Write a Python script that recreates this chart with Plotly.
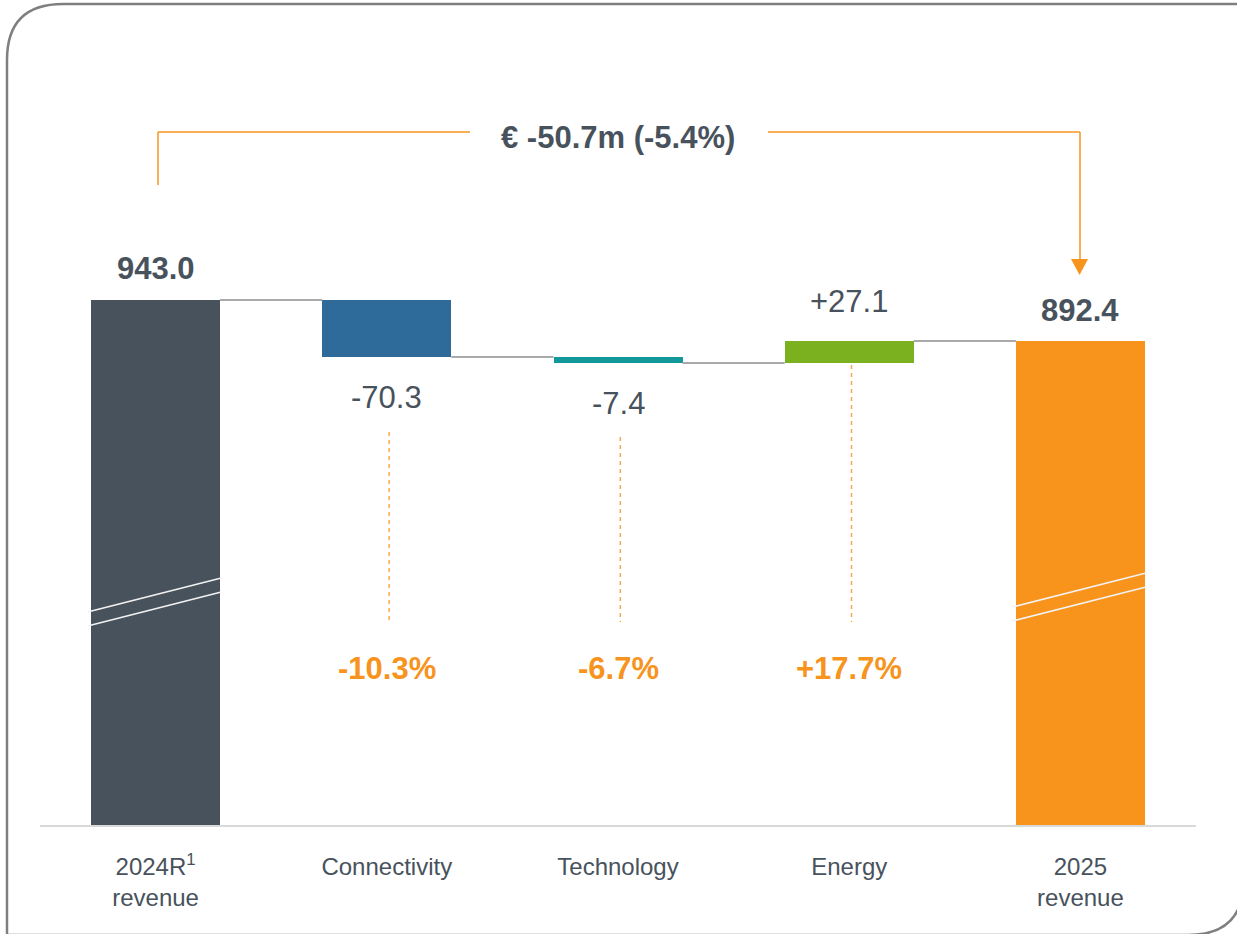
import plotly.graph_objects as go

# data
categories = ["2024R<sup>1</sup><br>revenue", "Connectivity", "Technology", "Energy", "2025<br>revenue"]
start_value = 943.0
deltas = [-70.3, -7.4, 27.1]
end_value = 892.4
delta_labels = ["-70.3", "-7.4", "+27.1"]
pct_labels = ["-10.3%", "-6.7%", "+17.7%"]
total_change = "€ -50.7m (-5.4%)"
bar_colors = ["#48525C", "#2E6B9A", "#12979A", "#7BB11F", "#F8931C"]

TEXT = "#48525C"
ORANGE = "#F7941D"
FONT = "Liberation Sans Narrow, Arial Narrow, Liberation Sans, Arial, sans-serif"

W, H = 1237, 934
L, R, T, B = 40, 41, 0, 108
BAR_W = 0.558


def px(x):
    return (x - L) / (W - L - R)


def py(y):
    return (H - B - y) / (H - T - B)


# waterfall geometry
levels = [start_value]
for d in deltas:
    levels.append(round(levels[-1] + d, 1))
bases = [0] + [min(levels[i], levels[i + 1]) for i in range(len(deltas))] + [0]
heights = [start_value] + [abs(d) for d in deltas] + [end_value]
xs = list(range(len(categories)))

fig = go.Figure()
fig.add_trace(go.Bar(x=xs, y=heights, base=bases, width=BAR_W,
                     marker=dict(color=bar_colors, line=dict(width=0)),
                     hoverinfo="skip", showlegend=False))

# connectors between bars
for i in range(len(categories) - 1):
    lvl = levels[i]
    fig.add_trace(go.Scatter(x=[i + BAR_W / 2, i + 1 - BAR_W / 2], y=[lvl, lvl],
                             mode="lines", line=dict(color="#A9A9A9", width=2),
                             hoverinfo="skip", showlegend=False))

anns = []
# totals labels
for i, v in [(0, start_value), (4, end_value)]:
    anns.append(dict(x=i, y=v, xref="x", yref="y", text="<b>%.1f</b>" % v, showarrow=False,
                     yanchor="middle", yshift=31, font=dict(size=31, color=TEXT, family=FONT)))
# delta labels + pct
for i, d in enumerate(deltas):
    top = max(levels[i], levels[i + 1])
    bot = min(levels[i], levels[i + 1])
    if d < 0:
        anns.append(dict(x=i + 1, y=bot, xref="x", yref="y", text=delta_labels[i], showarrow=False,
                         yanchor="middle", yshift=-40, font=dict(size=31, color=TEXT, family=FONT)))
    else:
        anns.append(dict(x=i + 1, y=top, xref="x", yref="y", text=delta_labels[i], showarrow=False,
                         yanchor="middle", yshift=40, font=dict(size=31, color=TEXT, family=FONT)))
    anns.append(dict(x=i + 1, y=py(668), xref="x", yref="paper", text="<b>%s</b>" % pct_labels[i],
                     showarrow=False, yanchor="middle",
                     font=dict(size=31, color=ORANGE, family=FONT)))

anns.append(dict(x=px(618), y=py(138), xref="paper", yref="paper", text="<b>%s</b>" % total_change,
                 showarrow=False, yanchor="middle", font=dict(size=31, color=TEXT, family=FONT)))

shapes = []
# frame: rounded top-left and bottom-right corners
fl, ft, fr, fb, rad = 7, 4, 1244, 935, 56
path = ("M {a},{b} L {d},{b} L {d},{f} Q {d},{g} {c},{g} "
        "L {h},{g} L {h},{e} Q {h},{b} {a},{b} Z").format(
    a=px(fl + rad), b=py(ft), c=px(fr - rad), d=px(fr), e=py(ft + rad), f=py(fb - rad),
    g=py(fb), h=px(fl))
shapes.append(dict(type="path", path=path, xref="paper", yref="paper",
                   line=dict(color="#7F7F7F", width=2.5), layer="below"))

# bracket with arrow
for (x0, y0, x1, y1) in [(158, 185, 158, 132), (158, 132, 470, 132), (768, 132, 1080, 132), (1080, 132, 1080, 262)]:
    shapes.append(dict(type="line", xref="paper", yref="paper", x0=px(x0), y0=py(y0), x1=px(x1), y1=py(y1),
                       line=dict(color=ORANGE, width=1.5)))
shapes.append(dict(type="path", xref="paper", yref="paper",
                   path="M {},{} L {},{} L {},{} Z".format(px(1071), py(259), px(1088), py(259), px(1079.5), py(275)),
                   fillcolor=ORANGE, line=dict(width=0)))

# dashed guides
for i, y_start in zip([1, 2, 3], [432, 437, 365]):
    shapes.append(dict(type="line", xref="x", yref="paper", x0=i + 0.01, x1=i + 0.01, y0=py(y_start), y1=py(622),
                       line=dict(color="#F9A94D", width=1.5, dash="4px,4px")))

# axis-break marks
for i, (yl, yr) in [(0, (612, 578)), (4, (607, 573))]:
    for off in (0, 14):
        shapes.append(dict(type="line", xref="x", yref="paper", x0=i - BAR_W / 2 - 0.015, x1=i + BAR_W / 2 + 0.005,
                           y0=py(yl + off), y1=py(yr + off), line=dict(color="#F2F2F2", width=1.6)))

# baseline
shapes.append(dict(type="line", xref="paper", yref="paper", x0=0, x1=1, y0=0, y1=0,
                   line=dict(color="#D9D9D9", width=2)))

fig.update_layout(
    width=W, height=H, margin=dict(l=L, r=R, t=T, b=B),
    plot_bgcolor="white", paper_bgcolor="white",
    font=dict(family=FONT, color=TEXT),
    annotations=anns, shapes=shapes, bargap=0,
    xaxis=dict(range=[-0.5, 4.5], tickvals=xs, ticktext=categories, showgrid=False, zeroline=False,
               showline=False, ticks="", ticklabelstandoff=24,
               tickfont=dict(size=24, color=TEXT, family=FONT), fixedrange=True),
    yaxis=dict(range=[294.4, 1312.9], visible=False, showgrid=False, zeroline=False, fixedrange=True),
)

fig.write_html("out.html", config={"displayModeBar": False},
               post_script="document.body.style.margin='0';")
